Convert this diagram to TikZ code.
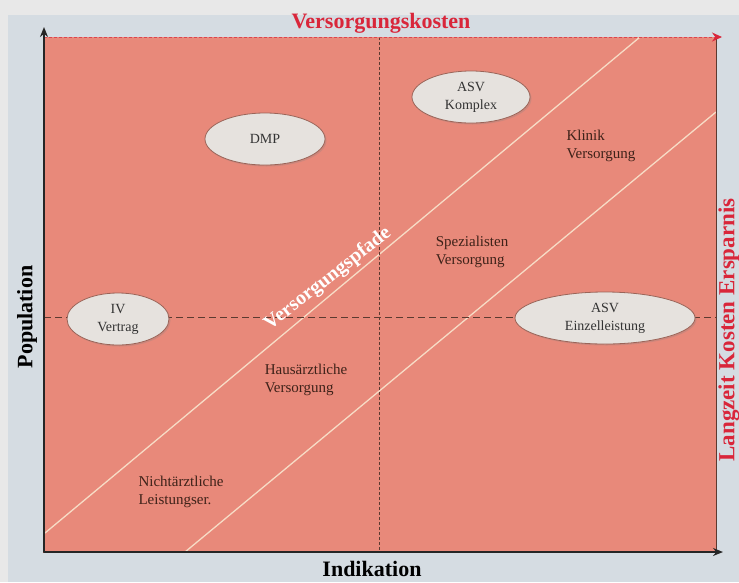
\documentclass[tikz,border=0pt]{standalone}
\usepackage{fontspec}
\setmainfont{Liberation Serif}
\usetikzlibrary{arrows.meta, shapes.geometric, shadows}
\definecolor{salmon}{HTML}{E8897A}
\definecolor{panel}{HTML}{D5DCE2}
\definecolor{frame}{HTML}{E8E8E8}
\definecolor{cream}{HTML}{F7DCC6}
\definecolor{bubble}{HTML}{E6E2DE}
\definecolor{rim}{HTML}{9A6458}
\definecolor{ink}{HTML}{3E2219}
\definecolor{alert}{HTML}{D9263A}
\definecolor{edge}{HTML}{5C3A30}

\begin{document}
\begin{tikzpicture}[
  x=1pt, y=-1pt,
  every node/.style={inner sep=0pt},
  zone/.style={font=\fontsize{15}{18}\selectfont, text=ink, align=left},
  oval/.style={ellipse, draw=rim, line width=0.8pt, fill=bubble,
               font=\fontsize{14}{18}\selectfont, text=black!80,
               align=center, minimum height=52pt,
               drop shadow={opacity=0.25, shadow xshift=1.5pt, shadow yshift=-1.5pt}},
  axlab/.style={font=\fontsize{22}{24}\selectfont\bfseries},
  path/.style={draw=cream, line width=1.3pt},
  grid/.style={draw=edge, line width=1pt},
  axis/.style={-{Stealth[length=10pt, width=8pt]}, line width=1.8pt, draw=black!85}
]
% --- page and panel ---
\fill[frame] (0,0) rectangle (739,582);
\fill[panel] (8,15) rectangle (739,582);
\useasboundingbox (0,0) rectangle (739,582);

% --- field corners (pixel grid, y downward) ---
\coordinate (o)  at (44,552);
\coordinate (ne) at (716,37);
\coordinate (nw) at (44,37);
\coordinate (se) at (716,552);
\fill[salmon] (o) rectangle (ne);

% --- care paths ---
\coordinate (p1a) at (45,533);
\coordinate (p1b) at (640,37);
\coordinate (p2a) at (185,552);
\coordinate (p2b) at (716,112);
\draw[path] (p1a) -- (p1b);
\draw[path] (p2a) -- (p2b);

% --- quadrant lines ---
\coordinate (vt) at (379,37);
\coordinate (vb) at (379,552);
\coordinate (hl) at (44,317);
\coordinate (hr) at (716,317);
\draw[grid, dash pattern=on 3pt off 2pt, line width=0.8pt] (vt) -- (vb);
\draw[grid, dash pattern=on 7pt off 4pt] (hl) -- (hr);

% --- frame edges and axes ---
\coordinate (ntip) at (722,37);
\draw[edge, line width=0.8pt] (ne) -- (se);
\draw[alert!70!salmon, dash pattern=on 3pt off 2pt, line width=1pt,
      -{Stealth[length=10pt, width=9pt, alert]}] (nw) -- (ntip);
\draw[edge, line width=2pt] (nw) -- (o) -- (se);
\coordinate (ytip) at (44,27);
\coordinate (xtip) at (723,552);
\draw[axis] (o) -- (ytip);
\draw[axis] (o) -- (xtip);

% --- axis labels ---
\node[axlab, text=alert]            at (381,23)  (cost) {Versorgungskosten};
\node[axlab]                        at (372,569) (ind)  {Indikation};
\node[axlab, rotate=90]             at (27,317)  (pop)  {Population};
\node[axlab, text=alert, rotate=90,
      font=\fontsize{23}{24}\selectfont\bfseries] at (729,330) (save) {Langzeit Kosten Ersparnis};

% --- programmes ---
\node[oval, minimum width=120pt] at (265,139) (dmp)  {DMP};
\node[oval, minimum width=118pt] at (471,97)  (asvk) {ASV\\Komplex};
\node[oval, minimum width=102pt] at (118,319) (iv)   {IV\\Vertrag};
\node[oval, minimum width=180pt] at (605,318) (asve) {ASV\\Einzelleistung};

% --- care levels ---
\node[zone] at (601,146) (klinik) {Klinik\\Versorgung};
\node[zone] at (472,252) (spez)   {Spezialisten\\Versorgung};
\node[zone] at (306,380) (haus)   {Hausärztliche\\Versorgung};
\node[zone] at (181,492) (nicht)  {Nichtärztliche\\Leistungser.};

\node[font=\fontsize{20}{22}\selectfont\bfseries, text=white, rotate=38]
  at (328,279) (pfade) {Versorgungspfade};
\end{tikzpicture}
\end{document}
